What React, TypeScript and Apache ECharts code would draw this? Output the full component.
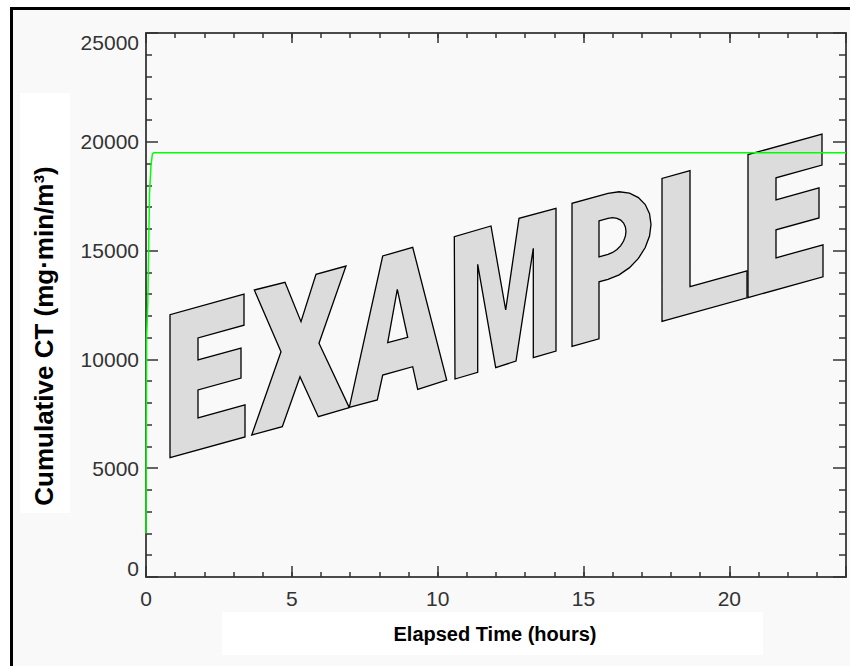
import React, { useEffect, useRef } from "react";
import * as echarts from "echarts";

// ---- data ----
const hours = [0, 0.02, 0.06, 0.09, 0.12, 0.17, 0.22, 0.27, 24];
const cumulativeCT = [2000, 11000, 12500, 15000, 17600, 18900, 19450, 19500, 19500];
const xTitle = "Elapsed Time (hours)";
const yTitle = "Cumulative CT (mg·min/m³)";
const xMax = 24;
const yMax = 25000;

// ---- watermark geometry (decoration) ----
const BASE_X = 170;
const BASE_Y = 457.7;
const SHEAR = 0.277;
const sheared = (x0: number, pts: number[][]) =>
  pts.map(([u, v]) => {
    const x = x0 + u;
    return [x, BASE_Y - SHEAR * (x - BASE_X) - v];
  });
const arc = (cx: number, cy: number, r: number) => {
  const out: number[][] = [];
  for (let a = 90; a >= -90; a -= 15) {
    const t = (a * Math.PI) / 180;
    out.push([cx + r * Math.cos(t), cy + r * Math.sin(t)]);
  }
  return out;
};
const E_SHAPE = [[0, 0], [0, 143], [74, 143], [74, 112], [28, 112], [28, 90], [71, 90], [71, 60], [28, 60], [28, 32], [75, 32], [75, 0]];
const P_OUTER = [[0, 0], [0, 143], ...arc(36, 100, 43), [27, 57], [27, 0]];
const P_HOLE = [[27, 118], ...arc(36, 100, 18), [27, 82]];
const L_SHAPE = [[0, 0], [0, 143], [28, 143], [28, 27], [85, 27], [85, 0]];
const X_SHAPE = [[254.3, 290], [285, 282.3], [301, 321.7], [316, 274.3], [346, 266], [319, 343.3], [349.3, 407.7], [318.3, 416.7], [300, 376.7], [282.3, 426.7], [251.7, 435], [281, 351.7]];
const A_OUTER = [[349.3, 407.3], [382.7, 256], [412.7, 247.3], [446.7, 380], [417.7, 389.3], [412.7, 366.7], [382.7, 375], [377.3, 400]];
const A_HOLE = [[397.3, 289.3], [407.7, 337.3], [387.7, 342.7]];
const M_SHAPE = [[455, 379], [454.3, 236.7], [491, 226], [505.7, 310], [519, 218.3], [556, 208.3], [556, 351], [533.3, 357.7], [533.3, 248.3], [516, 361], [495.7, 367.7], [477.7, 264.3], [477.7, 372.3]];

const BG = "#f9f9f9";
const FONT = '"Liberation Sans", Arial, sans-serif';

export default function App() {
  const ref = useRef<HTMLDivElement>(null);
  useEffect(() => {
    if (!ref.current) return;
    const chart = echarts.init(ref.current, undefined, { renderer: "svg" });
    const letterStyle = { fill: "#dcdcdc", stroke: "#000", lineWidth: 1.3 };
    const holeStyle = { fill: BG, stroke: "#000", lineWidth: 1.3 };
    const poly = (points: number[][], style: any) => ({ type: "polygon", z: 1, shape: { points }, style });
    const gridBox = { left: 146, top: 33, width: 700, height: 544 };
    const axisLine = { show: true, onZero: false, lineStyle: { color: "#4a4a4a", width: 2 } };
    const noLine = { show: false, onZero: false };
    const tickLine = { color: "#333", width: 1.5 };
    const labelStyle = { fontSize: 21, color: "#333", fontFamily: FONT };
    chart.setOption({
      animation: false,
      backgroundColor: BG,
      grid: [
        { ...gridBox, containLabel: false },
        { ...gridBox, containLabel: false },
      ],
      xAxis: [
        {
          gridIndex: 0, type: "value", position: "bottom", min: 0, max: xMax, interval: 1,
          axisLine, splitLine: { show: false },
          axisTick: { inside: true, length: 5, lineStyle: tickLine },
          axisLabel: { ...labelStyle, margin: 11, formatter: (v: number) => (v % 5 === 0 ? String(v) : "") },
        },
        {
          gridIndex: 0, type: "value", position: "top", min: 0, max: xMax, interval: 1,
          axisLine, splitLine: { show: false },
          axisTick: { inside: true, length: 5, lineStyle: tickLine },
          axisLabel: { show: false },
        },
        {
          gridIndex: 1, type: "value", position: "bottom", min: 0, max: xMax, interval: 5,
          axisLine: noLine, splitLine: { show: false },
          axisTick: { inside: true, length: 11, lineStyle: tickLine },
          axisLabel: { show: false },
        },
        {
          gridIndex: 1, type: "value", position: "top", min: 0, max: xMax, interval: 5,
          axisLine: noLine, splitLine: { show: false },
          axisTick: { inside: true, length: 10, lineStyle: tickLine },
          axisLabel: { show: false },
        },
      ],
      yAxis: [
        {
          gridIndex: 0, type: "value", position: "left", min: 0, max: yMax, interval: 5000,
          axisLine, splitLine: { show: false }, minorSplitLine: { show: false },
          axisTick: { inside: true, length: 12, lineStyle: tickLine },
          minorTick: { show: true, splitNumber: 5, length: 6, lineStyle: tickLine },
          axisLabel: {
            ...labelStyle, margin: 7,
            formatter: (v: number) => (v === yMax ? "{t|" + v + "}" : v === 0 ? "{b|0}" : String(v)),
            rich: {
              t: { ...labelStyle, padding: [18, 0, 0, 0] },
              b: { ...labelStyle, padding: [0, 0, 17, 0] },
            },
          },
        },
        {
          gridIndex: 0, type: "value", position: "right", min: 0, max: yMax, interval: 5000,
          axisLine, splitLine: { show: false }, minorSplitLine: { show: false },
          axisTick: { inside: true, length: 13, lineStyle: tickLine },
          minorTick: { show: true, splitNumber: 5, length: 7, lineStyle: tickLine },
          axisLabel: { show: false },
        },
        { gridIndex: 1, type: "value", min: 0, max: yMax, show: false },
      ],
      series: [
        {
          type: "line",
          xAxisIndex: 0,
          yAxisIndex: 0,
          z: 5,
          data: hours.map((h, i) => [h, cumulativeCT[i]]),
          showSymbol: false,
          lineStyle: { color: "#00ff00", width: 1.5 },
        },
      ],
      graphic: [
        { type: "rect", z: 0, shape: { x: 0, y: 0, width: 850, height: 7 }, style: { fill: "#fff" } },
        { type: "rect", z: 0, shape: { x: 0, y: 0, width: 10, height: 666 }, style: { fill: "#fff" } },
        { type: "rect", z: 0, shape: { x: 10, y: 7, width: 840, height: 3 }, style: { fill: "#000" } },
        { type: "rect", z: 0, shape: { x: 10, y: 7, width: 3, height: 659 }, style: { fill: "#000" } },
        { type: "rect", z: 0, shape: { x: 20, y: 93, width: 50, height: 420 }, style: { fill: "#fff" } },
        { type: "rect", z: 0, shape: { x: 222, y: 612, width: 541, height: 43 }, style: { fill: "#fff" } },
        poly(sheared(170, E_SHAPE), letterStyle),
        poly(X_SHAPE, letterStyle),
        poly(A_OUTER, letterStyle),
        poly(A_HOLE, holeStyle),
        poly(M_SHAPE, letterStyle),
        poly(sheared(572, P_OUTER), letterStyle),
        poly(sheared(572, P_HOLE), holeStyle),
        poly(sheared(662, L_SHAPE), letterStyle),
        poly(sheared(748, E_SHAPE), letterStyle),
        {
          type: "text", z: 3, x: 44, y: 336, rotation: Math.PI / 2,
          style: { text: yTitle, fill: "#000", font: 'bold 26px ' + FONT, align: "center", verticalAlign: "middle" },
        },
        {
          type: "text", z: 3, x: 495, y: 634,
          style: { text: xTitle, fill: "#000", font: 'bold 20px ' + FONT, align: "center", verticalAlign: "middle" },
        },
      ],
    });
    return () => chart.dispose();
  }, []);
  return <div ref={ref} style={{ position: "fixed", left: 0, top: 0, width: 850, height: 666 }} />;
}
